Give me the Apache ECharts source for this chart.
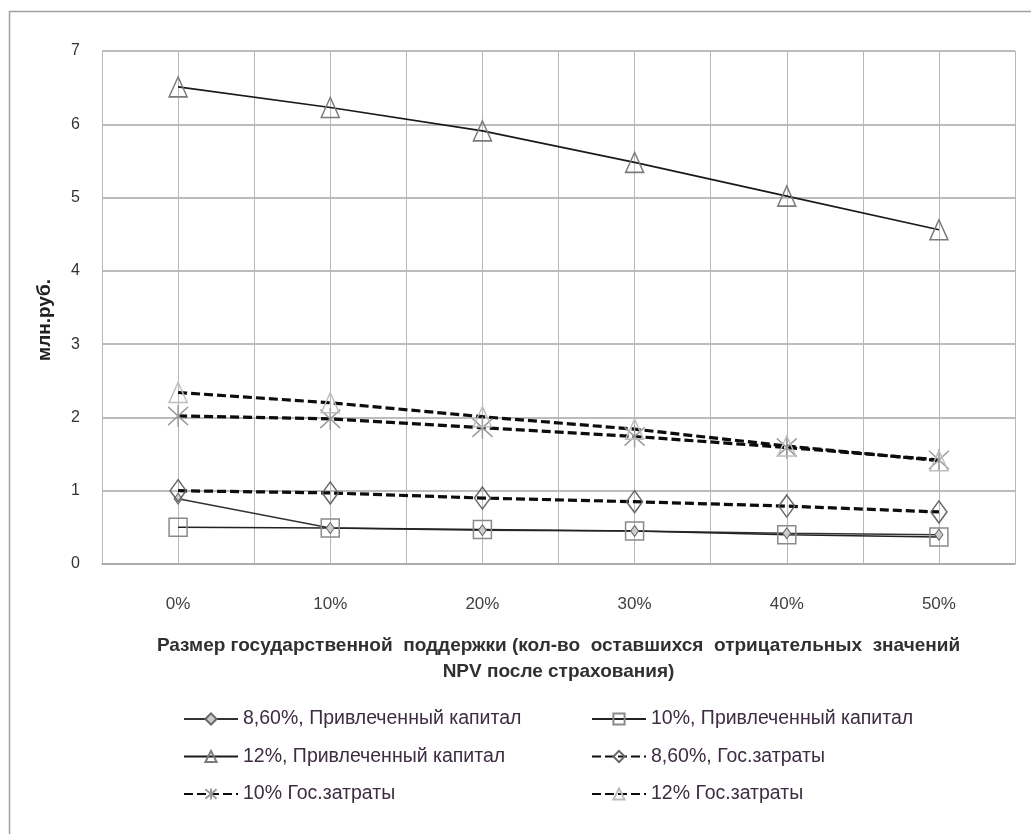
<!DOCTYPE html>
<html><head><meta charset="utf-8">
<script src="https://cdn.jsdelivr.net/npm/echarts@6/dist/echarts.min.js"></script>
<style>html,body{margin:0;padding:0;background:#fff}#c{width:1031px;height:834px}</style>
</head><body><div id="c"></div>
<script>
const categories = ['0%', '10%', '20%', '30%', '40%', '50%'];
const yTicks = [0, 1, 2, 3, 4, 5, 6, 7];
const seriesNames = [
  '8,60%, Привлеченный капитал',
  '10%, Привлеченный капитал',
  '12%, Привлеченный капитал',
  '8,60%, Гос.затраты',
  '10% Гос.затраты',
  '12% Гос.затраты'
];
const cap86 = [0.89, 0.49, 0.46, 0.45, 0.42, 0.40];
const cap10 = [0.50, 0.49, 0.47, 0.45, 0.40, 0.37];
const cap12 = [6.51, 6.23, 5.91, 5.48, 5.02, 4.56];
const gov86 = [1.00, 0.97, 0.90, 0.85, 0.79, 0.71];
const gov10 = [2.02, 1.98, 1.86, 1.74, 1.59, 1.42];
const gov12 = [2.34, 2.20, 2.01, 1.84, 1.61, 1.41];
const yAxisName = 'млн.руб.';
const xAxisName = 'Размер государственной  поддержки (кол-во  оставшихся  отрицательных  значений\nNPV после страхования)';

const FONT = 'Liberation Sans, sans-serif';
const star = 'path://M0,0L10,10M10,0L0,10M5,-1L5,11';
const dashed = { type: [9, 4], width: 3.2, color: '#0d0d0d' };

const chart = echarts.init(document.getElementById('c'), null, { renderer: 'canvas' });
chart.setOption({
  animation: false,
  backgroundColor: '#fff',
  grid: { left: 102, right: 16, top: 51, bottom: 270, containLabel: false },
  xAxis: [
    { type: 'category', data: categories, boundaryGap: true,
      axisLine: { show: true, lineStyle: { color: '#a6a6a6', width: 1.5 } }, axisTick: { show: false },
      splitLine: { show: false },
      axisLabel: { fontFamily: FONT, fontSize: 17, color: '#404040', margin: 32 },
      name: xAxisName, nameLocation: 'middle', nameGap: 69,
      nameTextStyle: { fontFamily: FONT, fontWeight: 'bold', fontSize: 19, color: '#303030', lineHeight: 26 }
    },
    { type: 'value', min: -0.5, max: 5.5, interval: 0.5, position: 'bottom',
      axisLine: { show: false }, axisTick: { show: false }, axisLabel: { show: false },
      splitLine: { show: true, lineStyle: { color: '#b8b8b8', width: 1 } } }
  ],
  yAxis: {
    type: 'value', min: yTicks[0], max: yTicks[yTicks.length - 1], interval: 1,
    axisLine: { show: false }, axisTick: { show: false },
    axisLabel: { fontFamily: FONT, fontSize: 16, color: '#333', margin: 22 },
    splitLine: { show: true, lineStyle: { color: '#a6a6a6', width: 1.5 } }
  },
  legend: [
    { orient: 'vertical', left: 178, top: 704, itemWidth: 54, itemHeight: 14, itemGap: 17.5,
      data: [seriesNames[0], seriesNames[2], seriesNames[4]],
      textStyle: { fontFamily: FONT, fontSize: 19.5, color: '#3d2c42' } },
    { orient: 'vertical', left: 586, top: 704, itemWidth: 54, itemHeight: 14, itemGap: 17.5,
      data: [seriesNames[1], seriesNames[3], seriesNames[5]],
      textStyle: { fontFamily: FONT, fontSize: 19.5, color: '#3d2c42' } }
  ],
  graphic: [
    { type: 'rect', shape: { x: 9.5, y: 11.5, width: 1060, height: 900 },
      style: { fill: 'none', stroke: '#a0a0a0', lineWidth: 1.5 }, silent: true },
    { type: 'text', x: 45, y: 320, rotation: Math.PI / 2,
      style: { text: yAxisName, font: 'bold 19px Liberation Sans, sans-serif', fill: '#202020',
        textAlign: 'center', textVerticalAlign: 'middle' } }
  ],
  series: [
    { name: seriesNames[0], type: 'line', data: cap86, symbol: 'diamond', symbolSize: [8, 11],
      lineStyle: { color: '#333', width: 1.5 },
      itemStyle: { color: '#ccc', borderColor: '#666', borderWidth: 1 } },
    { name: seriesNames[1], type: 'line', data: cap10, symbol: 'rect', symbolSize: 18,
      lineStyle: { color: '#222', width: 1.5 },
      itemStyle: { color: 'rgba(255,255,255,0)', borderColor: '#8a8a8a', borderWidth: 1.5 } },
    { name: seriesNames[2], type: 'line', data: cap12, symbol: 'triangle', symbolSize: [18, 20],
      lineStyle: { color: '#1a1a1a', width: 1.6 },
      itemStyle: { color: 'rgba(255,255,255,0)', borderColor: '#7a7a7a', borderWidth: 1.5 } },
    { name: seriesNames[3], type: 'line', data: gov86, symbol: 'diamond', symbolSize: [16, 22],
      lineStyle: dashed,
      itemStyle: { color: 'rgba(255,255,255,0)', borderColor: '#666', borderWidth: 1.5 } },
    { name: seriesNames[4], type: 'line', data: gov10, symbol: star, symbolSize: [20, 22],
      lineStyle: dashed,
      itemStyle: { color: 'none', borderColor: '#9a9a9a', borderWidth: 1.5 } },
    { name: seriesNames[5], type: 'line', data: gov12, symbol: 'triangle', symbolSize: [18, 20],
      lineStyle: dashed,
      itemStyle: { color: 'rgba(255,255,255,0)', borderColor: '#bdbdbd', borderWidth: 1.5 } }
  ]
});
</script></body></html>
